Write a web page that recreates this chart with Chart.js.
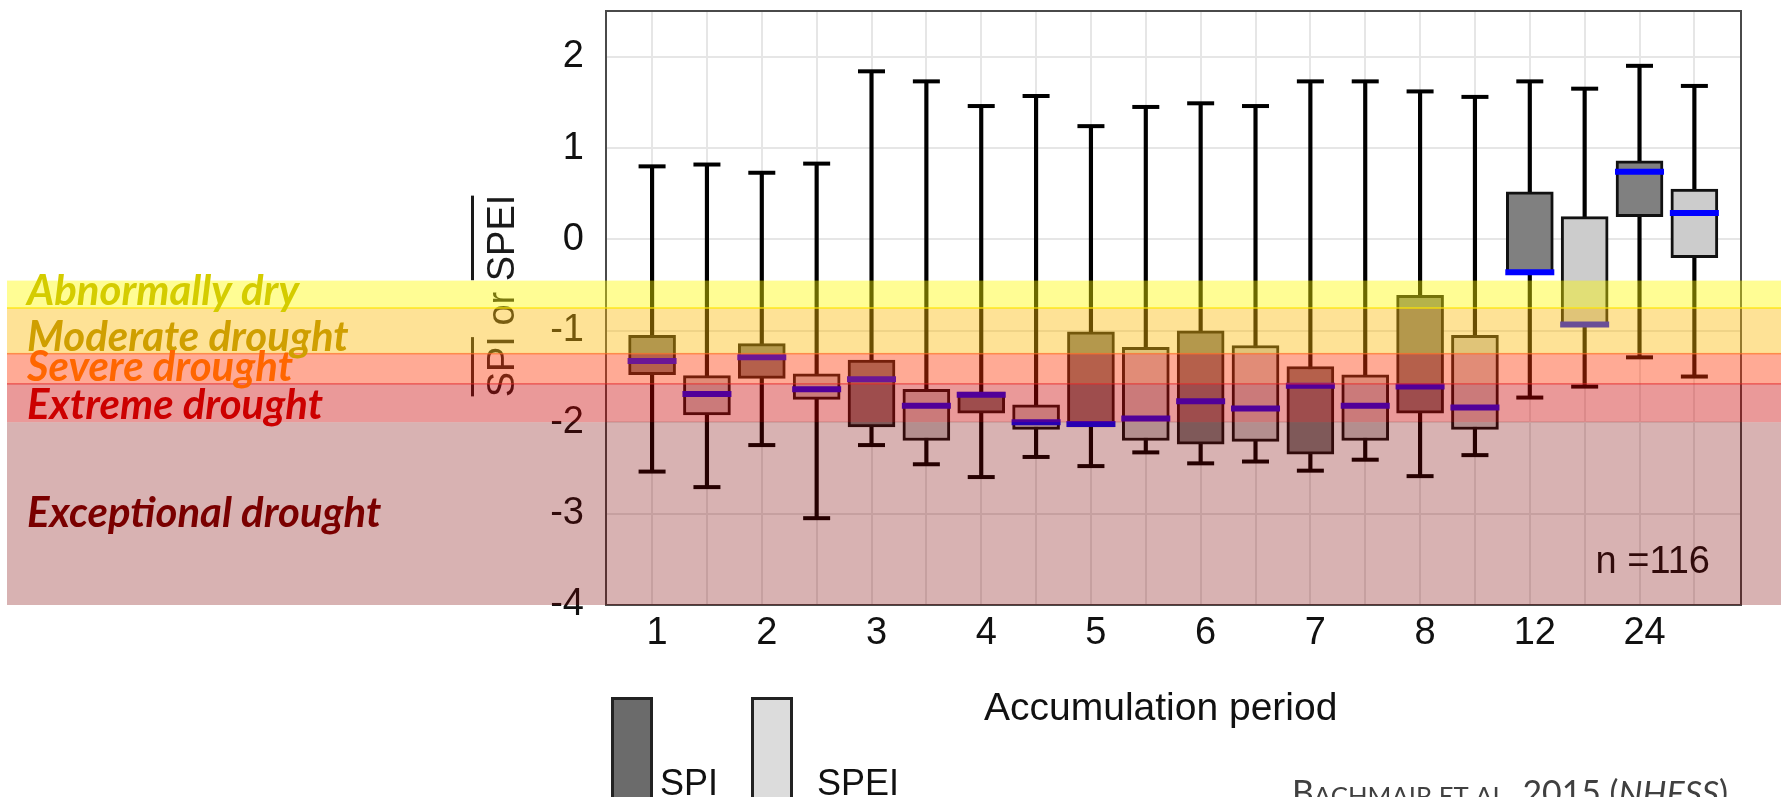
<!DOCTYPE html>
<html>
<head>
<meta charset="utf-8">
<script src="https://cdn.jsdelivr.net/npm/chart.js@4.4.1/dist/chart.umd.min.js"></script>
<style>
  html, body { margin: 0; padding: 0; background: #fff; }
  canvas { display: block; }
</style>
</head>
<body>
<canvas id="myChart" width="1781" height="797"></canvas>
<script>
// accumulation periods (months)
const categories = ['1', '2', '3', '4', '5', '6', '7', '8', '12', '24'];

// SPI boxes
const spiMin = [-2.54, -2.25, -2.25, -2.60, -2.48, -2.45, -2.53, -2.59, -1.73, -1.29];
const spiQ1  = [-1.48, -1.52, -2.05, -1.90, -2.05, -2.24, -2.35, -1.90, -0.37, 0.25];
const spiMed = [-1.33, -1.29, -1.53, -1.70, -2.02, -1.77, -1.60, -1.61, -0.36, 0.74];
const spiQ3  = [-1.05, -1.14, -1.32, -1.67, -1.01, -1.00, -1.39, -0.61, 0.52, 0.86];
const spiMax = [0.80, 0.73, 1.84, 1.46, 1.24, 1.49, 1.73, 1.62, 1.73, 1.90];

// SPEI boxes
const speiMin = [-2.71, -3.05, -2.46, -2.38, -2.33, -2.43, -2.41, -2.36, -1.61, -1.50];
const speiQ1  = [-1.92, -1.75, -2.20, -2.08, -2.20, -2.21, -2.20, -2.08, -0.94, -0.20];
const speiMed = [-1.69, -1.64, -1.82, -2.00, -1.96, -1.85, -1.82, -1.84, -0.93, 0.29];
const speiQ3  = [-1.49, -1.47, -1.64, -1.81, -1.18, -1.16, -1.48, -1.05, 0.25, 0.55];
const speiMax = [0.82, 0.83, 1.73, 1.57, 1.45, 1.46, 1.73, 1.56, 1.65, 1.68];

const yTicks = [-4, -3, -2, -1, 0, 1, 2];

// drought classes (value ranges)
const bandNames   = ['Abnormally dry', 'Moderate drought', 'Severe drought', 'Extreme drought', 'Exceptional drought'];
const bandTops    = [-0.45, -0.75, -1.25, -1.58, -2.0];
const bandBottoms = [-0.75, -1.25, -1.58, -2.0, -4.0];

const nLabel = 'n =116';

// styles
const bandFill = ['rgba(255,250,0,0.42)', 'rgba(252,186,5,0.42)', 'rgba(255,52,3,0.42)', 'rgba(203,0,0,0.4)', 'rgba(125,0,0,0.3)'];
const bandEdge = [null, 'rgba(255,228,0,0.8)', 'rgba(255,110,40,0.7)', 'rgba(230,40,40,0.6)', null];
const bandText = ['#d4cc00', '#cf9f00', '#ff6600', '#cc0000', '#7a0000'];
const AX_FONT = '"Liberation Sans", Arial, Helvetica, sans-serif';

// SPI sits on even slots, SPEI on odd slots
const spiX = categories.map((c, i) => 2 * i);
const speiX = categories.map((c, i) => 2 * i + 1);
const slots = spiX.concat(speiX).sort((a, b) => a - b);

const range = (xs, lo, hi) => xs.map((x, i) => ({x: x, y: [lo[i], hi[i]]}));
const pts = (xs, v) => xs.map((x, i) => ({x: x, y: v[i]}));

const extras = {
    id: 'extras',
    afterDatasetsDraw(chart) {
        const ctx = chart.ctx, a = chart.chartArea;
        ctx.save();
        ctx.strokeStyle = '#4a4a4a';
        ctx.lineWidth = 2;
        ctx.strokeRect(a.left, a.top, a.right - a.left, a.bottom - a.top);
        ctx.restore();
    },
    afterDraw(chart) {
        const ctx = chart.ctx, a = chart.chartArea, y = chart.scales.y;
        const W = chart.width;
        ctx.save();

        // n label
        ctx.font = '38px ' + AX_FONT;
        ctx.fillStyle = '#111';
        ctx.textAlign = 'right';
        ctx.textBaseline = 'alphabetic';
        ctx.fillText(nLabel, 1710, 573);

        // y axis title with overbars
        const title = 'SPI or SPEI';
        ctx.font = '38px ' + AX_FONT;
        const tw = ctx.measureText(title).width;
        const wSpi = ctx.measureText('SPI').width;
        const wPre = ctx.measureText('SPI or ').width;
        const wSpei = ctx.measureText('SPEI').width;
        ctx.save();
        ctx.translate(504, (a.top + a.bottom) / 2 - 12);
        ctx.rotate(-Math.PI / 2);
        ctx.textAlign = 'left';
        ctx.textBaseline = 'middle';
        ctx.fillStyle = '#1a1a1a';
        ctx.fillText(title, -tw / 2, 0);
        ctx.fillRect(-tw / 2 + 1, -33, wSpi - 2, 3);
        ctx.fillRect(-tw / 2 + wPre + 1, -33, wSpei - 2, 3);
        ctx.restore();

        // x axis title
        ctx.font = '39px ' + AX_FONT;
        ctx.fillStyle = '#111';
        ctx.textAlign = 'left';
        ctx.fillText('Accumulation period', 984, 720);

        // legend
        ctx.lineWidth = 3;
        ctx.strokeStyle = '#222';
        ctx.fillStyle = '#6b6b6b';
        ctx.fillRect(612.5, 698.5, 39, 110);
        ctx.strokeRect(612.5, 698.5, 39, 110);
        ctx.fillStyle = '#dcdcdc';
        ctx.fillRect(752.5, 698.5, 39, 110);
        ctx.strokeRect(752.5, 698.5, 39, 110);
        ctx.font = '36px ' + AX_FONT;
        ctx.fillStyle = '#111';
        ctx.fillText('SPI', 660, 795);
        ctx.fillText('SPEI', 817, 795);

        // source line, small caps, fitted to its width in the reference
        const parts = [['B', 1, ''], ['ACHMAIR ET AL', 0.76, ''], ['. 2015 (', 1, ''], ['NHESS', 1, 'italic '], [')', 1, '']];
        const measure = (s) => parts.reduce((w, p) => {
            ctx.font = p[2] + (s * p[1]).toFixed(1) + 'px Lato';
            return w + ctx.measureText(p[0]).width;
        }, 0);
        const cs = 30 * 436 / measure(30);
        const cBase = 781 + 0.72 * cs;
        let cx = 1292;
        ctx.fillStyle = '#404040';
        parts.forEach(p => {
            ctx.font = p[2] + (cs * p[1]).toFixed(1) + 'px Lato';
            ctx.fillText(p[0], cx, cBase);
            cx += ctx.measureText(p[0]).width;
        });

        // drought bands overlay
        bandNames.forEach((n, i) => {
            const top = y.getPixelForValue(bandTops[i]);
            const bot = y.getPixelForValue(bandBottoms[i]);
            ctx.fillStyle = bandFill[i];
            ctx.fillRect(7, top, W - 7, bot - top);
            if (bandEdge[i]) {
                ctx.fillStyle = bandEdge[i];
                ctx.fillRect(7, top - 0.75, W - 7, 1.5);
            }
        });

        // band labels
        ctx.font = 'italic bold 40px Lato';
        const fit = 40 * 354 / ctx.measureText(bandNames[4]).width;
        ctx.font = 'italic bold ' + fit.toFixed(1) + 'px Lato';
        ctx.textAlign = 'left';
        bandNames.forEach((n, i) => {
            const top = y.getPixelForValue(bandTops[i]);
            const bot = y.getPixelForValue(bandBottoms[i]);
            const base = i < 4 ? bot - 3 : (top + bot) / 2 + 13;
            ctx.fillStyle = bandText[i];
            ctx.fillText(n, 27, base);
        });

        ctx.restore();
    }
};

new Chart(document.querySelector('#myChart'), {
    type: 'bar',
    data: {
        datasets: [
            {
                label: 'SPI whisker',
                data: range(spiX, spiMin, spiMax),
                backgroundColor: '#000',
                borderWidth: 0,
                barThickness: 3.5,
                grouped: false,
                order: 5
            },
            {
                label: 'SPEI whisker',
                data: range(speiX, speiMin, speiMax),
                backgroundColor: '#000',
                borderWidth: 0,
                barThickness: 3.5,
                grouped: false,
                order: 5
            },
            {
                label: 'SPI',
                data: range(spiX, spiQ1, spiQ3),
                backgroundColor: '#808080',
                borderColor: '#111',
                borderWidth: 3,
                borderSkipped: false,
                barThickness: 47,
                grouped: false,
                order: 4
            },
            {
                label: 'SPEI',
                data: range(speiX, speiQ1, speiQ3),
                backgroundColor: '#cccccc',
                borderColor: '#111',
                borderWidth: 3,
                borderSkipped: false,
                barThickness: 47,
                grouped: false,
                order: 4
            },
            {
                type: 'scatter',
                label: 'caps',
                data: pts(spiX, spiMin).concat(pts(spiX, spiMax), pts(speiX, speiMin), pts(speiX, speiMax)),
                pointStyle: 'line',
                pointRadius: 13.5,
                pointHoverRadius: 13.5,
                pointBorderWidth: 4,
                pointBorderColor: '#000',
                order: 2
            },
            {
                type: 'scatter',
                label: 'median',
                data: pts(spiX, spiMed).concat(pts(speiX, speiMed)),
                pointStyle: 'line',
                pointRadius: 24.5,
                pointHoverRadius: 24.5,
                pointBorderWidth: 6,
                pointBorderColor: '#0000ff',
                order: 1
            }
        ]
    },
    options: {
        responsive: false,
        animation: false,
        devicePixelRatio: 1,
        layout: { autoPadding: false, padding: { left: 526, right: 40, top: 11, bottom: 132 } },
        scales: {
            x: {
                type: 'linear',
                min: -0.84,
                max: 19.85,
                offset: false,
                afterBuildTicks: (s) => { s.ticks = slots.map(v => ({value: v})); },
                afterFit: (s) => { s.height = 60; s.paddingLeft = 0; s.paddingRight = 0; },
                grid: { offset: false, color: '#e6e6e6', lineWidth: 2, drawTicks: false },
                border: { display: false },
                ticks: {
                    autoSkip: false,
                    maxRotation: 0,
                    padding: 6,
                    labelOffset: 5,
                    color: '#111',
                    font: { family: AX_FONT, size: 38 },
                    callback: (v) => (v % 2 === 0 ? categories[v / 2] : '')
                }
            },
            y: {
                min: -4,
                max: 2.5,
                afterBuildTicks: (s) => { s.ticks = yTicks.map(v => ({value: v})); },
                afterFit: (s) => { s.width = 80; s.paddingTop = 0; s.paddingBottom = 0; },
                grid: { color: '#e6e6e6', lineWidth: 2, drawTicks: false },
                border: { display: false },
                ticks: {
                    padding: 22,
                    color: '#111',
                    font: { family: AX_FONT, size: 38 },
                    callback: (v) => String(v)
                }
            }
        },
        plugins: {
            legend: { display: false },
            tooltip: { enabled: false }
        }
    },
    plugins: [extras]
});
</script>
</body>
</html>
